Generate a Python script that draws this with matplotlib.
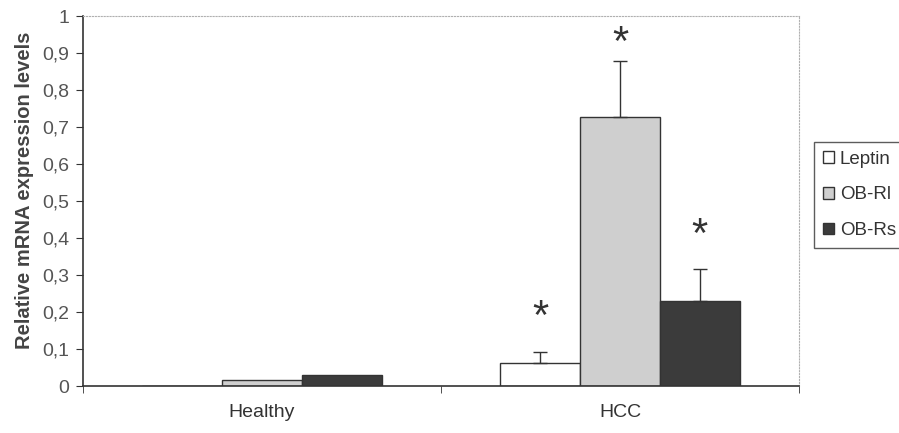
import numpy as np
import matplotlib
matplotlib.use("Agg")
import matplotlib.pyplot as plt
from matplotlib.patches import Patch

plt.rcParams['font.family'] = ['Liberation Sans', 'DejaVu Sans']

# data
groups = ['Healthy', 'HCC']
series = ['Leptin', 'OB-Rl', 'OB-Rs']
leptin = [0.0, 0.061]
ob_rl = [0.016, 0.728]
ob_rs = [0.030, 0.230]
leptin_err = [0.0, 0.032]
ob_rl_err = [0.0, 0.150]
ob_rs_err = [0.0, 0.087]
star_y = [0.185, 0.925, 0.405]   # asterisks over the HCC bars

values = [leptin, ob_rl, ob_rs]
errors = [leptin_err, ob_rl_err, ob_rs_err]
colors = ['white', '#cfcfcf', '#3b3b3b']
edge = '#333333'

fig = plt.figure(figsize=(8.99, 4.33), dpi=100)
ax = fig.add_axes([0.0923, 0.1085, 0.7965, 0.8545])

x = np.arange(len(groups))
w = 0.223
for i, (vals, errs) in enumerate(zip(values, errors)):
    pos = x + (i - 1) * w
    ax.bar(pos, vals, width=w, color=colors[i], edgecolor=edge, linewidth=1.0, zorder=2)
    for p, v, e in zip(pos, vals, errs):
        if e > 0:
            ax.errorbar(p, v, yerr=[[0], [e]], fmt='none', ecolor=edge,
                        elinewidth=1.0, capsize=5, capthick=1.0, zorder=3)
    ax.text(x[1] + (i - 1) * w, star_y[i], '*', ha='center', va='center',
            fontsize=30, color='#333333')

ax.set_xlim(-0.5, 1.5)
ax.set_ylim(0, 1)
ticks = np.arange(0, 1.01, 0.1)
ax.set_yticks(ticks)
ax.set_yticklabels(['0' if t == 0 else ('1' if t > 0.99 else ('%.1f' % t).replace('.', ','))
                    for t in ticks])
ax.set_xticks(x)
ax.set_xticklabels(groups)
ax.set_xticks([-0.5, 0.5, 1.5], minor=True)
ax.tick_params(axis='x', which='major', length=0, pad=13, labelsize=14, labelcolor='#333333')
ax.tick_params(axis='x', which='minor', length=5, direction='out', color='#333333')
ax.tick_params(axis='y', length=5, direction='out', color='#333333',
               labelsize=14, labelcolor='#555555', pad=5)

for s in ['left', 'bottom']:
    ax.spines[s].set_color('#333333')
    ax.spines[s].set_linewidth(1.2)
for s in ['top', 'right']:
    ax.spines[s].set_color('#b0b0b0')
    ax.spines[s].set_linestyle(':')
    ax.spines[s].set_linewidth(0.8)

ax.set_ylabel('Relative mRNA expression levels', fontsize=14.5, fontweight='bold',
              color='#444444')
ax.yaxis.set_label_coords(-0.068, 0.53)

handles = [Patch(facecolor=c, edgecolor=edge, linewidth=1.0) for c in colors]
leg = fig.legend(handles, series, loc='center left', bbox_to_anchor=(0.906, 0.55),
                 fontsize=13.5, frameon=True, fancybox=False, edgecolor='#333333',
                 handlelength=0.6, handleheight=0.6, handletextpad=0.3,
                 labelspacing=1.0, borderpad=0.45, borderaxespad=0, labelcolor='#333333')
leg.get_frame().set_linewidth(1.0)

fig.savefig('out.png', dpi=100)
